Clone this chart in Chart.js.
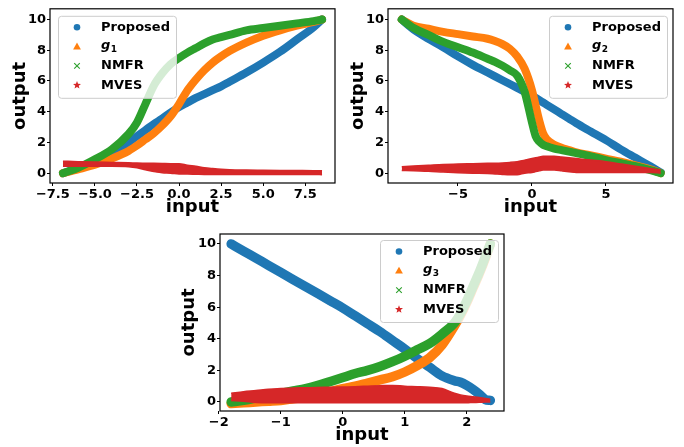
<!DOCTYPE html>
<html>
<head>
<meta charset="utf-8">
<script src="https://cdn.jsdelivr.net/npm/chart.js@4.4.0/dist/chart.umd.min.js"></script>
<style>
  body { margin: 0; background: #fff; }
  #wrap { position: relative; width: 684px; height: 447px; overflow: hidden; }
  .panel { position: absolute; }
</style>
</head>
<body>
<div id="wrap">
  <div class="panel" style="left:0;top:0"><canvas id="c1" width="342" height="220"></canvas></div>
  <div class="panel" style="left:342px;top:0"><canvas id="c2" width="342" height="220"></canvas></div>
  <div class="panel" style="left:170px;top:220px"><canvas id="c3" width="342" height="227"></canvas></div>
</div>
<script>
// --- data ---
const seriesNames = ['Proposed', 'g', 'NMFR', 'MVES'];
const seriesColors = ['#1f77b4', '#ff7f0e', '#2ca02c', '#d62728'];
const markerStyles = ['circle', 'triangle', 'cross', 'star'];
const yTicks = [0, 2, 4, 6, 8, 10];

// panel 1 (g1)
const p1X        = [-6.9, -6, -5, -4, -3, -2.5, -2, -1.5, -1, -0.5, 0, 0.5, 1, 1.5, 2, 2.5, 3, 4, 5, 6, 7, 8, 8.5];
const p1Proposed = [0, 0.35, 0.8, 1.35, 2.0, 2.4, 2.8, 3.2, 3.55, 3.95, 4.3, 4.6, 4.9, 5.15, 5.4, 5.65, 5.95, 6.55, 7.2, 7.9, 8.7, 9.5, 10];
const p1G        = [0, 0.25, 0.55, 0.95, 1.45, 1.8, 2.2, 2.6, 3.1, 3.7, 4.5, 5.4, 6.1, 6.7, 7.2, 7.6, 7.95, 8.5, 8.95, 9.3, 9.6, 9.85, 10];
const p1Nmfr     = [0, 0.35, 0.9, 1.55, 2.55, 3.3, 4.5, 5.7, 6.5, 7.1, 7.5, 7.85, 8.15, 8.45, 8.7, 8.85, 9.0, 9.3, 9.45, 9.6, 9.75, 9.9, 10];
const p1MvesHigh = [0.78, 0.75, 0.72, 0.7, 0.68, 0.66, 0.65, 0.64, 0.63, 0.62, 0.62, 0.52, 0.45, 0.36, 0.3, 0.25, 0.22, 0.2, 0.19, 0.18, 0.17, 0.16, 0.15];
const p1MvesLow  = [0.45, 0.45, 0.45, 0.45, 0.42, 0.35, 0.22, 0.1, 0.03, 0, -0.05, -0.06, -0.07, -0.08, -0.08, -0.08, -0.08, -0.08, -0.08, -0.08, -0.08, -0.08, -0.1];
const p1XTicks   = [-7.5, -5, -2.5, 0, 2.5, 5, 7.5];

// panel 2 (g2)
const p2X        = [-8.8, -8, -7, -6, -5, -4, -3, -2.5, -2, -1.5, -1, -0.5, 0, 0.25, 0.5, 0.75, 1, 1.5, 2, 2.5, 3, 4, 5, 6, 7, 8, 8.7];
const p2Proposed = [10, 9.35, 8.75, 8.2, 7.6, 7.05, 6.55, 6.3, 6.05, 5.8, 5.55, 5.3, 5.0, 4.9, 4.75, 4.6, 4.45, 4.15, 3.85, 3.55, 3.25, 2.7, 2.15, 1.55, 1.0, 0.45, 0.05];
const p2G        = [10, 9.6, 9.4, 9.2, 9.05, 8.9, 8.75, 8.6, 8.4, 8.1, 7.6, 6.8, 5.4, 4.4, 3.4, 2.6, 2.2, 1.85, 1.65, 1.5, 1.35, 1.15, 0.95, 0.75, 0.5, 0.25, 0];
const p2Nmfr     = [10, 9.45, 9.0, 8.55, 8.2, 7.85, 7.45, 7.25, 7.0, 6.7, 6.35, 5.3, 3.3, 2.4, 2.05, 1.85, 1.75, 1.6, 1.5, 1.4, 1.3, 1.1, 0.85, 0.65, 0.45, 0.2, 0];
const p2MvesHigh = [0.42, 0.47, 0.52, 0.57, 0.6, 0.62, 0.64, 0.65, 0.67, 0.7, 0.75, 0.85, 0.95, 1.0, 1.05, 1.1, 1.1, 1.1, 1.05, 1.0, 0.95, 0.85, 0.75, 0.6, 0.45, 0.3, 0.2];
const p2MvesLow  = [0.18, 0.15, 0.12, 0.07, 0.03, 0, -0.02, -0.05, -0.08, -0.1, -0.1, 0, 0.05, 0.1, 0.15, 0.2, 0.2, 0.2, 0.15, 0.1, 0.05, 0.05, 0.05, 0.05, 0.05, 0.05, 0];
const p2XTicks   = [-5, 0, 5];

// panel 3 (g3)
const p3X        = [-1.8, -1.6, -1.4, -1.2, -1, -0.8, -0.6, -0.4, -0.2, 0, 0.2, 0.4, 0.6, 0.8, 1, 1.2, 1.4, 1.6, 1.8, 1.9, 2.0, 2.1, 2.2, 2.3, 2.38];
const p3Proposed = [10, 9.55, 9.1, 8.65, 8.2, 7.75, 7.3, 6.85, 6.4, 5.95, 5.45, 4.95, 4.45, 3.9, 3.35, 2.75, 2.2, 1.65, 1.35, 1.25, 1.05, 0.8, 0.5, 0.15, 0.1];
const p3G        = [-0.1, -0.05, 0, 0.05, 0.1, 0.2, 0.3, 0.45, 0.65, 0.85, 1.0, 1.2, 1.4, 1.6, 1.9, 2.3, 2.8, 3.6, 4.8, 5.5, 6.3, 7.2, 8.1, 9.1, 10];
const p3Nmfr     = [0, 0.1, 0.25, 0.4, 0.55, 0.7, 0.85, 1.05, 1.3, 1.55, 1.8, 2.0, 2.25, 2.55, 2.9, 3.3, 3.7, 4.3, 5.0, 5.6, 6.4, 7.3, 8.2, 9.2, 10];
const p3MvesHigh = [0.55, 0.65, 0.72, 0.8, 0.85, 0.88, 0.9, 0.92, 0.93, 0.95, 0.97, 1.0, 1.03, 1.05, 1.0, 0.97, 0.93, 0.85, 0.55, 0.45, 0.38, 0.33, 0.28, 0.22, 0.18];
const p3MvesLow  = [0.1, 0.05, -0.03, -0.05, -0.05, -0.05, -0.05, -0.05, -0.05, -0.05, -0.05, -0.05, -0.05, -0.05, -0.05, -0.05, -0.05, -0.05, -0.05, -0.05, -0.05, -0.03, -0.02, 0, 0];
const p3XTicks   = [-2, -1, 0, 1, 2];

const FONT = 'DejaVu Sans';

// --- helpers ---
function pts(xs, ys) {
  return xs.map((x, i) => ({ x: x, y: ys[i] }));
}

function minus(dec) {
  return v => (v < 0 ? '\u2212' : '') + Math.abs(v).toFixed(dec);
}

function drawMarker(ctx, style, x, y, color) {
  ctx.fillStyle = color;
  ctx.strokeStyle = color;
  ctx.beginPath();
  if (style === 'circle') {
    ctx.arc(x, y, 3.3, 0, Math.PI * 2);
    ctx.fill();
  } else if (style === 'triangle') {
    ctx.moveTo(x, y - 4);
    ctx.lineTo(x - 3.9, y + 2.8);
    ctx.lineTo(x + 3.9, y + 2.8);
    ctx.closePath();
    ctx.fill();
  } else if (style === 'cross') {
    ctx.lineWidth = 1.1;
    ctx.moveTo(x - 2.8, y - 2.8); ctx.lineTo(x + 2.8, y + 2.8);
    ctx.moveTo(x - 2.8, y + 2.8); ctx.lineTo(x + 2.8, y - 2.8);
    ctx.stroke();
  } else {
    for (let k = 0; k < 10; k++) {
      const r = k % 2 === 0 ? 4.2 : 1.8;
      const a = -Math.PI / 2 + k * Math.PI / 5;
      const px = x + r * Math.cos(a), py = y + r * Math.sin(a);
      if (k === 0) ctx.moveTo(px, py); else ctx.lineTo(px, py);
    }
    ctx.closePath();
    ctx.fill();
  }
}

// frame around the plot area
const framePlugin = {
  id: 'frame',
  afterDatasetsDraw(chart) {
    const a = chart.chartArea, ctx = chart.ctx;
    ctx.save();
    ctx.strokeStyle = '#000';
    ctx.lineWidth = 1.2;
    ctx.strokeRect(a.left, a.top, a.right - a.left, a.bottom - a.top);
    ctx.restore();
  }
};

// matplotlib-like legend drawn inside the axes
const insideLegend = {
  id: 'insideLegend',
  afterDraw(chart, args, opts) {
    const a = chart.chartArea, ctx = chart.ctx;
    const w = 118, h = 82;
    const left = opts.side === 'left' ? a.left + 8 : a.right - 6 - w;
    const top = a.top + opts.top;
    ctx.save();
    ctx.beginPath();
    ctx.roundRect(left + 0.5, top + 0.5, w, h, 3);
    ctx.fillStyle = 'rgba(255,255,255,0.8)';
    ctx.fill();
    ctx.strokeStyle = '#cccccc';
    ctx.lineWidth = 1;
    ctx.stroke();

    seriesNames.forEach((name, i) => {
      const y = top + 11.5 + i * 19.3;
      drawMarker(ctx, markerStyles[i], left + 19, y, seriesColors[i]);
      ctx.fillStyle = '#000';
      ctx.textBaseline = 'middle';
      ctx.textAlign = 'left';
      if (name === 'g') {
        ctx.font = 'italic bold 13px "' + FONT + '"';
        ctx.fillText('g', left + 43, y - 1);
        const gw = ctx.measureText('g').width;
        ctx.font = 'bold 9px "' + FONT + '"';
        ctx.fillText(String(opts.sub), left + 43 + gw + 0.5, y + 3);
      } else {
        ctx.font = 'bold 13px "' + FONT + '"';
        ctx.fillText(name, left + 43, y);
      }
    });
    ctx.restore();
  }
};

function makePanel(id, cfg) {
  const curve = (data, i, order) => ({
    label: seriesNames[i],
    data: data,
    showLine: true,
    borderColor: seriesColors[i],
    backgroundColor: seriesColors[i],
    borderWidth: cfg.thick,
    borderCapStyle: 'round',
    borderJoinStyle: 'round',
    pointRadius: 0,
    cubicInterpolationMode: 'monotone',
    fill: false,
    order: order
  });

  const datasets = [
    curve(pts(cfg.x, cfg.proposed), 0, 4),
    curve(pts(cfg.x, cfg.g), 1, 3),
    curve(pts(cfg.x, cfg.nmfr), 2, 2),
    {
      label: 'MVES',
      data: pts(cfg.x, cfg.mvesHigh),
      showLine: true,
      borderColor: seriesColors[3],
      backgroundColor: seriesColors[3],
      borderWidth: 1.5,
      pointRadius: 0,
      cubicInterpolationMode: 'monotone',
      fill: '+1',
      order: 1
    },
    {
      label: 'MVES low',
      data: pts(cfg.x, cfg.mvesLow),
      showLine: true,
      borderColor: seriesColors[3],
      borderWidth: 1.5,
      pointRadius: 0,
      cubicInterpolationMode: 'monotone',
      fill: false,
      order: 1
    }
  ];

  const tickFont = { family: FONT, size: 13, weight: 'bold' };
  const titleFont = { family: FONT, size: 18, weight: 'bold' };

  return new Chart(document.getElementById(id), {
    type: 'scatter',
    data: { datasets: datasets },
    options: {
      responsive: false,
      animation: false,
      layout: { padding: cfg.pad },
      plugins: {
        legend: { display: false },
        tooltip: { enabled: false },
        insideLegend: { side: cfg.side, top: cfg.legTop, sub: cfg.sub }
      },
      scales: {
        x: {
          type: 'linear',
          min: cfg.xMin,
          max: cfg.xMax,
          afterBuildTicks: s => { s.ticks = cfg.xTicks.map(v => ({ value: v })); },
          afterFit: s => { s.height = cfg.xH; },
          ticks: { font: tickFont, color: '#000', padding: 1, maxRotation: 0, callback: minus(cfg.xDec) },
          grid: { display: true, drawOnChartArea: false, tickLength: 3, color: '#000' },
          border: { display: false },
          title: { display: true, text: 'input', font: titleFont, color: '#000', padding: { top: 0, bottom: cfg.xTitlePad } }
        },
        y: {
          type: 'linear',
          min: cfg.yMin,
          max: cfg.yMax,
          afterBuildTicks: s => { s.ticks = yTicks.map(v => ({ value: v })); },
          afterFit: s => { s.width = cfg.yW; },
          ticks: { font: tickFont, color: '#000', padding: 1, callback: minus(0) },
          grid: { display: true, drawOnChartArea: false, tickLength: 3, color: '#000' },
          border: { display: false },
          title: { display: true, text: 'output', font: titleFont, color: '#000', padding: { top: cfg.yTitlePad, bottom: 0 } }
        }
      }
    },
    plugins: [framePlugin, insideLegend]
  });
}

makePanel('c1', {
  x: p1X, proposed: p1Proposed, g: p1G, nmfr: p1Nmfr, mvesHigh: p1MvesHigh, mvesLow: p1MvesLow,
  xTicks: p1XTicks, xDec: 1, xMin: -7.67, xMax: 9.27, yMin: -0.64, yMax: 10.7,
  pad: { left: 0, top: 6, right: 7, bottom: 0 }, yW: 50, xH: 37, xTitlePad: 2, yTitlePad: 10,
  side: 'left', legTop: 7, sub: 1, thick: 8
});

makePanel('c2', {
  x: p2X, proposed: p2Proposed, g: p2G, nmfr: p2Nmfr, mvesHigh: p2MvesHigh, mvesLow: p2MvesLow,
  xTicks: p2XTicks, xDec: 0, xMin: -9.73, xMax: 9.53, yMin: -0.64, yMax: 10.7,
  pad: { left: 0, top: 6, right: 11, bottom: 0 }, yW: 46, xH: 37, xTitlePad: 2, yTitlePad: 6,
  side: 'right', legTop: 7, sub: 2, thick: 8
});

makePanel('c3', {
  x: p3X, proposed: p3Proposed, g: p3G, nmfr: p3Nmfr, mvesHigh: p3MvesHigh, mvesLow: p3MvesLow,
  xTicks: p3XTicks, xDec: 0, xMin: -1.98, xMax: 2.6, yMin: -0.57, yMax: 10.63,
  pad: { left: 0, top: 14, right: 8, bottom: 0 }, yW: 50, xH: 36, xTitlePad: 1, yTitlePad: 9,
  side: 'right', legTop: 6, sub: 3, thick: 9.5
});
</script>
</body>
</html>
